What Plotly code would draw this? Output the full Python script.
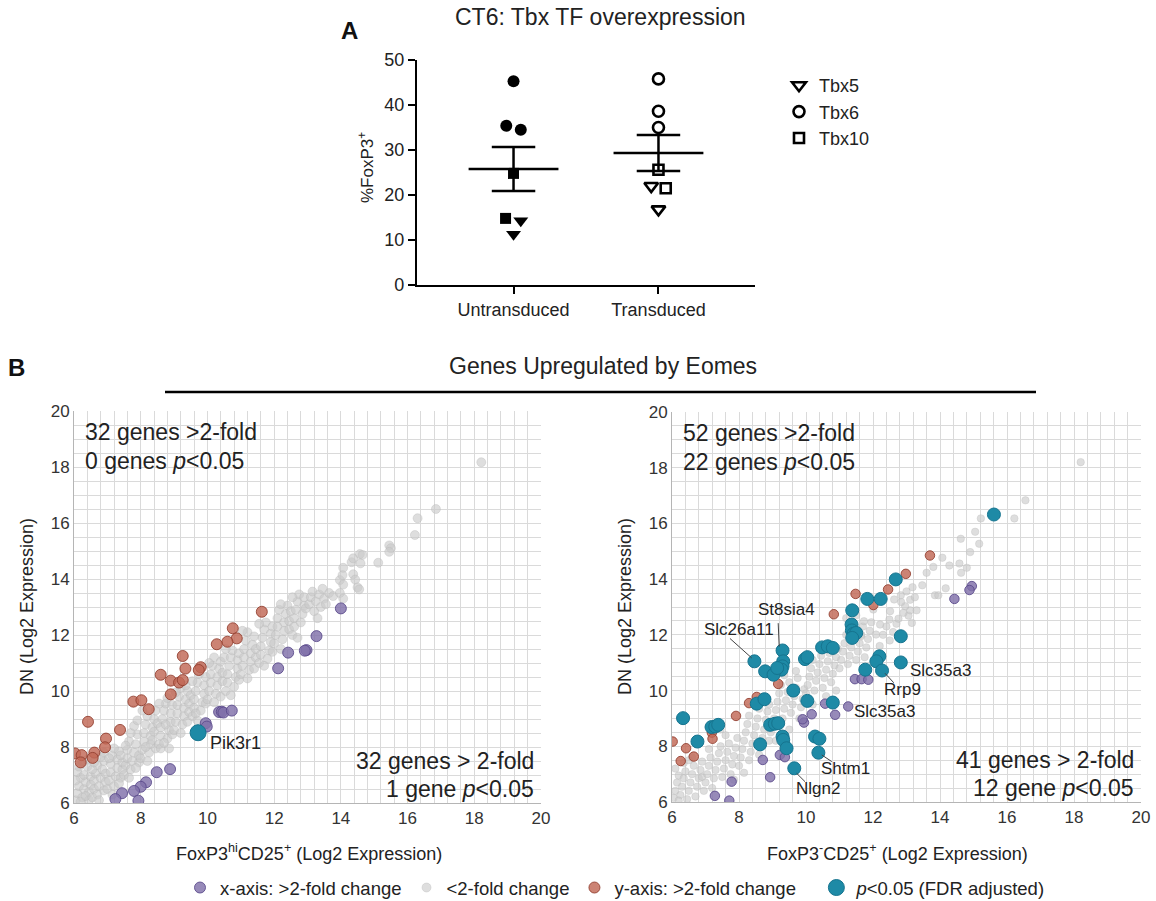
import plotly.graph_objects as go
import numpy as np

FONT = "Liberation Sans, Arial, Helvetica, sans-serif"
W, H, OFF = 1156, 901, 0

# ---------------- Panel A data ----------------
a_groups = ["Untransduced", "Transduced"]
a_genes = ["Tbx5", "Tbx6", "Tbx10"]
a_untrans_tbx5 = [14.3, 11.3]
a_untrans_tbx6 = [45.3, 35.4, 34.5]
a_untrans_tbx10 = [24.8, 14.8]
a_trans_tbx5 = [22.0, 16.8]
a_trans_tbx6 = [45.8, 38.6, 35.0]
a_trans_tbx10 = [25.6, 21.5]
# horizontal spread of overlapping points (category units)
a_jit_untrans = {"Tbx5": [0.05, 0.0], "Tbx6": [0.0, -0.05, 0.05], "Tbx10": [0.0, -0.055]}
a_jit_trans = {"Tbx5": [-0.05, 0.0], "Tbx6": [0.0, 0.0, 0.0], "Tbx10": [0.0, 0.05]}

# ---------------- Panel B data: left (FoxP3hi CD25+ vs DN) ----------------
left_gray = [
    (6.05, 6.1), (6.1, 6.35), (6.15, 6.6), (6.2, 6.9), (6.1, 7.1), (6.25, 6.2), (6.3, 6.5), (6.35, 6.75),
    (6.3, 7.0), (6.4, 7.3), (6.45, 6.1), (6.45, 6.4), (6.5, 6.65), (6.5, 6.95), (6.2, 6.05), (6.35, 6.25),
    (6.05, 6.8), (6.15, 7.3), (6.4, 7.55), (6.25, 7.5),
    (6.55, 6.2), (6.6, 6.5), (6.6, 6.8), (6.65, 7.05), (6.7, 7.35), (6.7, 6.3), (6.75, 6.6), (6.8, 6.9),
    (6.85, 7.2), (6.9, 7.5), (6.9, 6.45), (6.95, 6.75), (6.8, 7.65), (6.55, 7.2), (6.95, 7.05), (6.75, 6.1),
    (6.6, 7.45), (6.9, 7.8),
    (7.0, 6.5), (7.05, 6.8), (7.1, 7.1), (7.1, 7.4), (7.15, 7.7), (7.2, 6.6), (7.25, 6.95), (7.3, 7.25),
    (7.3, 7.55), (7.35, 7.85), (7.4, 6.9), (7.45, 7.2), (7.45, 7.45), (7.2, 7.95), (7.05, 7.6), (7.4, 7.7),
    (7.15, 6.3), (7.35, 6.7),
    (7.5, 7.0), (7.55, 7.35), (7.6, 7.6), (7.6, 7.9), (7.65, 8.2), (7.7, 7.2), (7.75, 7.5), (7.8, 7.8),
    (7.85, 8.1), (7.9, 8.45), (7.95, 7.45), (7.95, 7.7), (7.7, 8.5), (7.55, 8.05), (7.8, 8.75), (7.9, 8.95),
    (7.65, 6.9), (7.85, 7.25),
    (8.0, 7.6), (8.05, 7.9), (8.1, 8.2), (8.1, 8.5), (8.15, 8.8), (8.2, 9.1), (8.25, 7.8), (8.3, 8.1),
    (8.3, 8.4), (8.35, 8.7), (8.4, 9.0), (8.45, 9.3), (8.45, 7.95), (8.2, 7.5), (8.35, 8.25), (8.05, 9.3),
    (8.4, 8.55), (8.15, 8.0), (8.5, 8.85),
    (8.55, 8.1), (8.6, 8.4), (8.6, 8.7), (8.65, 9.0), (8.7, 9.3), (8.75, 9.55), (8.8, 8.3), (8.85, 8.6),
    (8.9, 8.9), (8.9, 9.2), (8.95, 9.5), (8.6, 7.95), (8.85, 7.95), (8.7, 8.15), (8.8, 9.75), (8.55, 9.55),
    (8.95, 8.45), (8.75, 8.8),
    (9.0, 8.6), (9.05, 8.9), (9.1, 9.2), (9.1, 9.5), (9.15, 9.8), (9.2, 10.1), (9.25, 8.8), (9.3, 9.1),
    (9.3, 9.4), (9.35, 9.7), (9.4, 10.0), (9.45, 9.25), (9.45, 9.55), (9.2, 8.5), (9.4, 8.9), (9.05, 9.95),
    (9.35, 10.2), (9.5, 9.85),
    (9.55, 9.1), (9.6, 9.4), (9.6, 9.7), (9.65, 10.0), (9.7, 10.3), (9.75, 10.6), (9.8, 9.3), (9.85, 9.6),
    (9.9, 9.9), (9.9, 10.2), (9.95, 10.5), (9.55, 10.35), (9.7, 8.95), (9.8, 10.8), (9.95, 9.55), (9.65, 9.2),
    (10.0, 9.7), (10.05, 10.0), (10.1, 10.3), (10.1, 10.6), (10.15, 10.9), (10.2, 11.2), (10.25, 9.9),
    (10.3, 10.2), (10.3, 10.5), (10.35, 10.8), (10.4, 11.05), (10.45, 10.35), (10.45, 10.65), (10.2, 9.6),
    (10.4, 9.8), (10.05, 11.0), (10.5, 11.2),
    (10.55, 10.0), (10.6, 10.3), (10.6, 10.6), (10.65, 10.9), (10.7, 11.2), (10.75, 11.45), (10.8, 10.15),
    (10.85, 10.5), (10.9, 10.8), (10.9, 11.1), (10.95, 11.35), (10.7, 9.85), (10.55, 11.5), (10.95, 10.4),
    (11.0, 10.6), (11.05, 10.9), (11.1, 11.2), (11.1, 11.5), (11.15, 11.8), (11.2, 12.1), (11.25, 10.75),
    (11.3, 11.05), (11.3, 11.35), (11.35, 11.65), (11.4, 11.95), (11.45, 11.2), (11.45, 11.5), (11.2, 10.45),
    (11.4, 10.8), (11.05, 12.15),
    (11.55, 11.0), (11.6, 11.3), (11.6, 11.6), (11.65, 11.9), (11.7, 12.2), (11.75, 12.45), (11.8, 11.15),
    (11.85, 11.45), (11.9, 11.75), (11.9, 12.05), (11.95, 12.3), (11.7, 10.9), (11.55, 12.4), (11.95, 11.4),
    (12.0, 11.7), (12.05, 12.0), (12.1, 12.3), (12.1, 12.6), (12.15, 12.9), (12.2, 11.5), (12.25, 11.85),
    (12.3, 12.15), (12.3, 12.45), (12.35, 12.75), (12.4, 13.05), (12.45, 12.2), (12.45, 12.5), (12.2, 13.1),
    (12.5, 12.85),
    (12.55, 12.0), (12.6, 12.3), (12.6, 12.6), (12.65, 12.9), (12.7, 13.2), (12.75, 13.45), (12.8, 12.45),
    (12.85, 12.75), (12.9, 13.05), (12.9, 13.35), (12.95, 12.95), (12.7, 11.9), (12.55, 13.35),
    (13.05, 13.1), (13.1, 13.35), (13.15, 13.55), (13.2, 12.85), (13.25, 13.2), (13.35, 13.45), (13.4, 13.0),
    (13.5, 13.3), (13.55, 13.1), (13.65, 13.5), (13.3, 12.6), (13.45, 13.65),
    (13.77, 13.39), (13.97, 13.96), (14.05, 14.14), (14.07, 14.4), (14.07, 13.8), (13.97, 13.5), (14.07, 13.3),
    (14.32, 14.6), (14.37, 14.74), (14.57, 14.89), (14.65, 14.86), (14.59, 14.56), (14.37, 14.17),
    (14.43, 13.98), (14.5, 13.7), (14.55, 13.63), (15.12, 14.58), (15.45, 15.2), (15.5, 15.1), (15.45, 14.97),
    (16.22, 15.57), (16.3, 16.17), (16.85, 16.5), (18.21, 18.17),
]
left_red = [
    (11.63, 12.83), (10.76, 12.24), (10.88, 11.88), (10.60, 11.76), (10.28, 11.67), (9.26, 11.25),
    (9.34, 10.80), (9.80, 10.85), (9.74, 10.75), (8.60, 10.58), (8.90, 10.37), (9.15, 10.30), (9.26, 10.39),
    (8.90, 9.88), (7.78, 9.62), (8.02, 9.67), (8.24, 9.35), (6.42, 8.90), (7.38, 8.61), (6.96, 8.30),
    (6.93, 7.99), (6.61, 7.80), (6.56, 7.61), (6.03, 7.77), (6.23, 7.71), (6.20, 7.45),
]
left_purple = [
    (14.0, 12.95), (13.27, 11.96), (12.97, 11.46), (12.92, 11.44), (12.42, 11.37), (12.12, 10.81),
    (10.35, 9.25), (10.43, 9.26), (10.48, 9.23), (10.73, 9.30), (9.95, 8.85), (9.98, 8.73), (8.88, 7.21),
    (8.48, 7.10), (8.16, 6.74), (8.00, 6.58), (7.80, 6.43), (7.44, 6.35), (7.24, 6.14), (7.93, 6.08),
]
left_teal = [(9.72, 8.51)]
left_teal_names = ["Pik3r1"]

# ---------------- Panel B data: right (FoxP3- CD25+ vs DN) ----------------
right_gray = [
    (6.05, 6.15), (6.1, 6.4), (6.15, 6.7), (6.2, 6.95), (6.25, 6.25), (6.3, 6.55), (6.35, 6.85), (6.4, 7.1),
    (6.45, 6.1), (6.5, 6.4), (6.55, 6.7), (6.6, 7.0), (6.65, 7.3), (6.7, 6.2), (6.75, 6.55), (6.8, 6.85),
    (6.85, 7.15), (6.9, 7.45), (6.95, 6.4), (6.1, 7.2), (6.35, 7.4), (6.6, 7.6), (6.2, 6.05), (6.9, 6.9),
    (6.5, 7.5),
    (7.0, 6.7), (7.05, 7.0), (7.1, 7.3), (7.15, 7.6), (7.2, 6.5), (7.25, 6.85), (7.3, 7.15), (7.35, 7.45),
    (7.4, 7.75), (7.45, 8.0), (7.5, 6.9), (7.55, 7.2), (7.6, 7.5), (7.65, 7.8), (7.7, 8.1), (7.75, 7.0),
    (7.8, 7.35), (7.85, 7.65), (7.9, 7.95), (7.95, 8.3), (7.45, 8.6), (7.6, 8.4), (7.1, 7.9), (7.85, 6.8),
    (8.0, 7.3), (8.05, 7.6), (8.1, 7.9), (8.15, 8.2), (8.2, 8.5), (8.25, 8.8), (8.3, 7.5), (8.35, 7.8),
    (8.4, 8.1), (8.45, 8.4), (8.5, 8.7), (8.55, 9.0), (8.6, 7.7), (8.65, 8.0), (8.7, 8.3), (8.75, 8.6),
    (8.8, 8.95), (8.85, 9.25), (8.9, 8.2), (8.95, 8.5), (8.3, 9.1), (8.15, 7.05), (8.6, 9.35), (8.9, 9.5),
    (9.0, 8.7), (9.05, 9.0), (9.1, 9.3), (9.15, 9.6), (9.2, 9.9), (9.25, 10.2), (9.3, 9.0), (9.35, 9.35),
    (9.4, 9.65), (9.45, 9.95), (9.5, 10.3), (9.55, 9.2), (9.6, 9.5), (9.65, 9.8), (9.7, 10.1), (9.75, 10.45),
    (9.8, 9.0), (9.85, 9.4), (9.9, 9.7), (9.95, 10.05), (9.5, 8.6), (9.1, 8.2), (9.7, 10.7), (9.35, 10.55),
    (10.0, 9.9), (10.05, 10.2), (10.1, 10.5), (10.15, 10.8), (10.2, 11.1), (10.25, 10.0), (10.3, 10.35),
    (10.35, 10.65), (10.4, 10.95), (10.45, 11.25), (10.5, 10.1), (10.55, 10.45), (10.6, 10.75),
    (10.65, 11.05), (10.7, 11.35), (10.75, 10.3), (10.8, 10.6), (10.85, 10.9), (10.9, 11.2), (10.95, 11.5),
    (10.2, 9.5), (10.6, 9.8), (10.45, 11.6), (10.9, 10.0),
    (11.0, 10.8), (11.05, 11.1), (11.1, 11.4), (11.15, 11.7), (11.2, 12.0), (11.25, 10.95), (11.3, 11.25),
    (11.35, 11.55), (11.4, 11.85), (11.5, 11.1), (11.55, 11.4), (11.6, 11.7), (11.65, 12.0), (11.7, 12.3),
    (11.75, 11.2), (11.8, 11.55), (11.85, 11.85), (11.9, 12.15), (11.95, 12.45), (11.64, 11.95),
    (11.73, 12.49), (11.2, 12.6), (11.5, 12.7),
    (12.3, 12.0), (12.4, 12.3), (12.6, 12.1), (12.7, 12.4), (12.2, 11.6), (12.5, 11.8),
    (12.01, 12.91), (12.09, 12.01), (12.21, 12.37), (12.49, 12.55), (12.63, 13.27), (12.51, 12.85),
    (13.3, 12.88), (13.16, 12.43), (13.06, 12.69), (12.76, 12.58), (12.91, 12.79), (13.11, 12.88),
    (12.96, 13.03), (12.84, 13.18), (12.83, 13.42), (13.11, 13.26), (13.25, 13.35), (13.0, 13.56),
    (13.18, 13.71), (13.47, 13.78), (13.85, 13.42), (13.95, 13.42), (14.17, 13.67), (13.6, 14.23),
    (14.63, 14.23), (14.8, 14.41), (14.58, 14.56), (14.28, 14.49), (13.8, 14.44), (14.07, 14.77),
    (14.9, 14.97), (15.17, 15.27), (14.62, 15.45), (15.05, 15.7), (15.22, 16.18), (16.22, 16.18),
    (16.55, 16.83), (18.2, 18.2),
]
right_red = [
    (13.7, 14.85), (12.98, 14.19), (12.45, 13.63), (11.48, 13.47), (12.01, 13.07), (10.83, 12.74),
    (9.17, 10.24), (8.53, 9.77), (8.30, 9.55), (7.91, 9.09), (7.19, 8.49), (7.21, 8.27), (6.02, 8.17),
    (6.42, 7.93), (6.65, 7.63), (6.26, 7.47),
]
right_purple = [
    (14.95, 13.75), (14.88, 13.61), (14.43, 13.29), (11.46, 10.41), (11.66, 10.41), (11.86, 10.39),
    (11.26, 9.43), (10.87, 9.13), (10.57, 9.53), (10.17, 9.15), (9.94, 8.85), (9.90, 8.97), (9.22, 7.69),
    (9.37, 7.61), (8.71, 7.51), (8.93, 6.89), (7.78, 6.73), (7.28, 6.22), (7.71, 6.05),
]
right_teal = [
    (15.61, 16.32), (12.68, 13.99), (11.83, 13.29), (12.23, 13.29), (11.38, 12.88), (11.36, 12.37),
    (11.37, 12.16), (11.42, 12.04), (11.50, 12.07), (11.38, 11.89), (12.83, 11.95), (10.48, 11.55),
    (10.65, 11.59), (10.80, 11.53), (9.97, 11.13), (10.04, 11.20), (9.30, 11.44), (9.32, 11.05),
    (9.30, 10.87), (9.27, 10.75), (8.46, 11.05), (8.78, 10.69), (9.03, 10.57), (9.14, 10.81), (9.62, 10.0),
    (10.04, 9.63), (10.80, 9.57), (8.53, 9.53), (8.76, 9.69), (6.33, 9.01), (7.18, 8.69), (7.29, 8.71),
    (7.38, 8.77), (6.76, 8.17), (8.63, 8.07), (8.93, 8.77), (9.07, 8.81), (9.17, 8.83), (9.30, 8.35),
    (9.32, 8.23), (9.42, 7.93), (10.27, 8.35), (10.40, 8.27), (10.37, 7.77), (9.65, 7.21), (11.77, 10.75),
    (12.19, 11.23), (12.10, 11.05), (12.27, 10.72), (12.83, 11.01),
]
# gene labels: (name, text x, text y, anchor, leader from x, from y, to x, to y)
right_labels = [
    ("St8sia4", 9.42, 12.9, "center", 9.17, 12.42, 9.20, 11.58),
    ("Slc26a11", 8.01, 12.19, "center", 7.73, 11.87, 8.38, 11.17),
    ("Slc35a3", 13.05, 10.72, "left", None, None, None, None),
    ("Rrp9", 12.88, 10.03, "center", 12.36, 10.62, 12.62, 10.28),
    ("Slc35a3", 11.37, 9.25, "left", None, None, None, None),
    ("Shtm1", 11.19, 7.21, "center", 10.47, 7.69, 10.77, 7.45),
    ("Nlgn2", 10.37, 6.49, "center", 9.72, 7.03, 9.97, 6.73),
]

left_counts = ["32 genes >2-fold", "0 genes <i>p</i>&lt;0.05", "32 genes > 2-fold", "1 gene <i>p</i>&lt;0.05"]
right_counts = ["52 genes >2-fold", "22 genes <i>p</i>&lt;0.05", "41 genes > 2-fold", "12 gene <i>p</i>&lt;0.05"]

cat_names = ["x-axis: >2-fold change", "<2-fold change", "y-axis: >2-fold change&nbsp;&nbsp;&nbsp;",
             "<i>p</i>&lt;0.05 (FDR adjusted)"]

# ---------------- styles ----------------
GRAY_F, GRAY_L = "rgba(202,202,202,0.62)", "rgba(182,182,182,0.6)"
RED_F, RED_L = "rgba(193,104,86,0.82)", "rgba(145,60,45,0.85)"
PUR_F, PUR_L = "rgba(128,112,170,0.82)", "rgba(88,72,138,0.85)"
TEAL_F, TEAL_L = "#1e8aa6", "#16748f"
GRID = "#dadada"

fig = go.Figure()

# ---------------- Panel A traces ----------------
sym = {"Tbx5": "triangle-down", "Tbx6": "circle", "Tbx10": "square"}
msize = {"Tbx5": 13, "Tbx6": 12, "Tbx10": 11}
un = {"Tbx5": a_untrans_tbx5, "Tbx6": a_untrans_tbx6, "Tbx10": a_untrans_tbx10}
tr = {"Tbx5": a_trans_tbx5, "Tbx6": a_trans_tbx6, "Tbx10": a_trans_tbx10}
for g in a_genes:
    fig.add_trace(go.Scatter(
        x=[0 + j for j in a_jit_untrans[g]], y=un[g], mode="markers", xaxis="x", yaxis="y",
        marker=dict(symbol=sym[g], size=msize[g], color="black", line=dict(width=0)),
        showlegend=False, hoverinfo="y"))
for g in a_genes:
    fig.add_trace(go.Scatter(
        x=[1 + j for j in a_jit_trans[g]], y=tr[g], mode="markers", xaxis="x", yaxis="y",
        marker=dict(symbol=sym[g] + "-open", size=msize[g] - 1, color="black", line=dict(width=2.6)),
        name=g, legend="legend2", showlegend=True, hoverinfo="y"))

for i, d in enumerate([un, tr]):
    vals = np.array(sum([d[g] for g in a_genes], []))
    m = vals.mean()
    s = vals.std(ddof=1) / np.sqrt(len(vals))
    hw, cw = 0.31, 0.15
    xs = [i - hw, i + hw, None, i, i, None, i - cw, i + cw, None, i - cw, i + cw]
    ys = [m, m, None, m - s, m + s, None, m + s, m + s, None, m - s, m - s]
    fig.add_trace(go.Scatter(x=xs, y=ys, mode="lines", xaxis="x", yaxis="y",
                             line=dict(color="black", width=2.5), showlegend=False, hoverinfo="skip"))

# ---------------- Panel B traces ----------------
def xs_(p):
    return [q[0] for q in p]

def ys_(p):
    return [q[1] for q in p]

def add_scatter(pairs, ax, ay, size, fill, line, name, rank, show, lw=1.0):
    fig.add_trace(go.Scatter(
        x=xs_(pairs), y=ys_(pairs), mode="markers", xaxis=ax, yaxis=ay,
        marker=dict(size=size, color=fill, line=dict(color=line, width=lw)),
        name=name, legendrank=rank, showlegend=show, legend="legend"))

add_scatter(left_gray, "x2", "y2", 9, GRAY_F, GRAY_L, cat_names[1], 2, True, 0.6)
add_scatter(left_red, "x2", "y2", 11, RED_F, RED_L, cat_names[2], 3, True)
add_scatter(left_purple, "x2", "y2", 11, PUR_F, PUR_L, cat_names[0], 1, True)
add_scatter(left_teal, "x2", "y2", 16, TEAL_F, TEAL_L, cat_names[3], 4, True)

add_scatter(right_gray, "x3", "y3", 7.5, GRAY_F, GRAY_L, cat_names[1], 2, False, 0.5)
add_scatter(right_red, "x3", "y3", 9.5, RED_F, RED_L, cat_names[2], 3, False)
add_scatter(right_purple, "x3", "y3", 9.5, PUR_F, PUR_L, cat_names[0], 1, False)
add_scatter(right_teal, "x3", "y3", 13, TEAL_F, TEAL_L, cat_names[3], 4, False)

# ---------------- layout ----------------
def px(xp):
    return (xp - OFF) / W

def py(yp):
    return 1 - (yp - OFF) / H

tickA = dict(family=FONT, size=18, color="#222")
axA = dict(showline=True, linecolor="black", linewidth=2.2, ticks="outside", ticklen=7, tickwidth=2.2,
           tickcolor="black", showgrid=False, zeroline=False, tickfont=tickA, automargin=False)

def axB(dom, minor_dt):
    return dict(domain=dom, range=[6, 20], dtick=2, tick0=6, showgrid=True, gridcolor=GRID, gridwidth=1,
                minor=dict(dtick=minor_dt, tick0=6, showgrid=True, gridcolor=GRID, gridwidth=1),
                showline=True, linecolor="#b5b5b5", linewidth=1, mirror=False, ticks="",
                zeroline=False, automargin=False, tickfont=dict(family=FONT, size=17, color="#333"))

annotations = []

def ann(text, x, y, size, xanchor="center", yanchor="middle", xref="paper", yref="paper", color="#222",
        angle=0, bold=False):
    annotations.append(dict(text=("<b>%s</b>" % text) if bold else text, x=x, y=y, xref=xref, yref=yref,
                            xanchor=xanchor, yanchor=yanchor, showarrow=False, textangle=angle,
                            font=dict(family=FONT, size=size, color=color)))

# Panel A texts
ann("A", px(349), py(30), 24, bold=True, color="#111")
ann("CT6: Tbx TF overexpression", px(600), py(17), 23)
ann("%FoxP3<sup>+</sup>", px(366), py(168), 17, angle=-90)

# Panel B header
ann("B", px(16), py(367), 24, bold=True, color="#111")
ann("Genes Upregulated by Eomes", px(603), py(366), 23)

# count texts
for (xa, ya, texts) in [("x2", "y2", left_counts), ("x3", "y3", right_counts)]:
    ann(texts[0], 0.02, 0.946, 23, xanchor="left", xref=xa + " domain", yref=ya + " domain")
    ann(texts[1], 0.02, 0.872, 23, xanchor="left", xref=xa + " domain", yref=ya + " domain")
    ann(texts[2], 0.99, 0.107, 23, xanchor="right", xref=xa + " domain", yref=ya + " domain")
    ann(texts[3], 0.99, 0.036, 23, xanchor="right", xref=xa + " domain", yref=ya + " domain")

# axis titles
ann("FoxP3<sup>hi</sup>CD25<sup>+</sup> (Log2 Expression)", px(309), py(852), 18)
ann("FoxP3<sup>-</sup>CD25<sup>+</sup> (Log2 Expression)", px(897), py(852), 18)
ann("DN (Log2 Expression)", px(27), py(607), 18, angle=-90)
ann("DN (Log2 Expression)", px(625), py(607), 18, angle=-90)

# gene labels
for name, (gx, gy) in zip(left_teal_names, left_teal):
    ann(name, 10.03, 8.15, 18, xanchor="left", xref="x2", yref="y2")

shapes = [dict(type="line", xref="paper", yref="paper", x0=px(165), x1=px(1036), y0=py(392), y1=py(392),
               line=dict(color="black", width=2.5))]
for name, tx, ty, anc, x0, y0, x1, y1 in right_labels:
    ann(name, tx, ty, 17, xanchor=anc, xref="x3", yref="y3")
    if x0 is not None:
        shapes.append(dict(type="line", xref="x3", yref="y3", x0=x0, y0=y0, x1=x1, y1=y1,
                           line=dict(color="#444", width=1)))

fig.update_layout(
    width=W, height=H, margin=dict(l=0, r=0, t=0, b=0, pad=0, autoexpand=False),
    paper_bgcolor="white", plot_bgcolor="white",
    font=dict(family=FONT, color="#222"),
    xaxis=dict(domain=[px(417), px(755)], range=[-0.666, 1.666], tickvals=[0, 1], ticktext=a_groups,
               anchor="y", **axA),
    yaxis=dict(domain=[py(285), py(60)], range=[0, 50], dtick=10, anchor="x", **axA),
    xaxis2=dict(anchor="y2", **axB([px(74), px(541)], 0.4)),
    yaxis2=dict(anchor="x2", **axB([py(803), py(411)], 0.5)),
    xaxis3=dict(anchor="y3", **axB([px(672), px(1141)], 0.4)),
    yaxis3=dict(anchor="x3", **axB([py(802), py(412)], 0.5)),
    legend=dict(orientation="h", x=px(180), y=py(888), xanchor="left", yanchor="middle",
                font=dict(family=FONT, size=18.5, color="#222"), itemwidth=30, traceorder="normal",
                bgcolor="rgba(0,0,0,0)"),
    legend2=dict(orientation="v", x=px(779), y=py(67), xanchor="left", yanchor="top",
                 font=dict(family=FONT, size=18, color="#222"), itemwidth=30, bgcolor="rgba(0,0,0,0)",
                 tracegroupgap=0),
    annotations=annotations, shapes=shapes,
)

# remove the browser's default 8px body margin so the figure fills the window exactly
fig.write_html("out.html", config={"displayModeBar": False},
               post_script="document.body.style.margin='0';document.body.style.overflow='hidden';")
